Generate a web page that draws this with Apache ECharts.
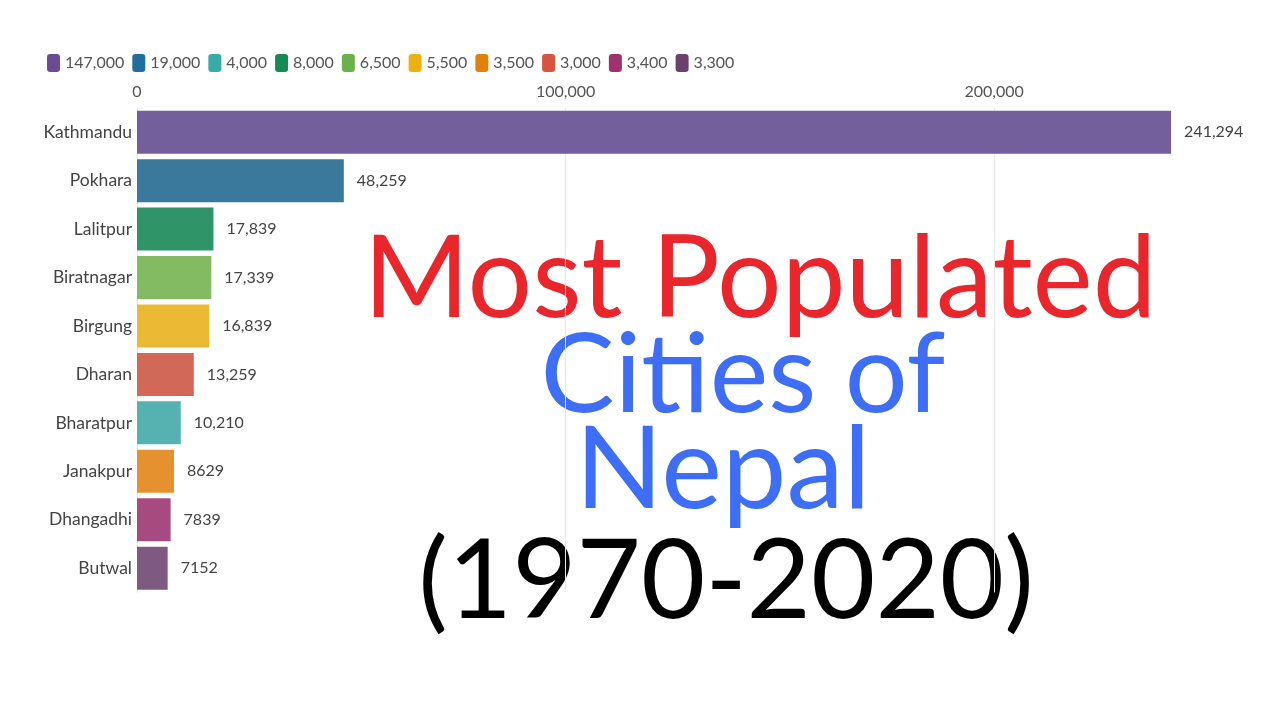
<!DOCTYPE html>
<html><head><meta charset="utf-8">
<script src="https://cdn.jsdelivr.net/npm/echarts@6/dist/echarts.min.js"></script>
<style>html,body{margin:0;padding:0;background:#fff}#c{width:1280px;height:720px}</style>
</head><body><div id="c"></div>
<script>
// Categories (top to bottom)
const cities = ['Kathmandu','Pokhara','Lalitpur','Biratnagar','Birgung','Dharan','Bharatpur','Janakpur','Dhangadhi','Butwal'];
const population = [241294, 48259, 17839, 17339, 16839, 13259, 10210, 8629, 7839, 7152];
// Legend entries (series names) in legend order, with the city each colours
const legendNames = ['147,000','19,000','4,000','8,000','6,500','5,500','3,500','3,000','3,400','3,300'];
const legendCity = ['Kathmandu','Pokhara','Bharatpur','Lalitpur','Biratnagar','Birgung','Janakpur','Dharan','Dhangadhi','Butwal'];
const legendColors = ['#6a4c93','#1f6e9c','#3aaaa6','#168a55','#6cb04a','#eeb011','#e2800c','#d5553f','#a0306e','#6b406e'];
const barColors = ['#735f9b','#3a799b','#55b2b0','#2f9467','#83bb62','#ebb933','#e6912f','#d26857','#a74a7f','#7f5a80'];
const axisTicks = [0, 100000, 200000];
const titleLines = ['Most Populated','Cities of','Nepal','(1970-2020)'];

function fmt(v){ return v >= 10000 ? v.toLocaleString('en-US') : String(v); }

const series = legendNames.map((name, i) => ({
  name: name,
  type: 'bar',
  stack: 'all',
  barWidth: 43,
  itemStyle: { color: barColors[i] },
  label: { show: true, position: 'right', distance: 13, fontFamily: 'Lato', fontSize: 16, color: '#444',
           formatter: p => fmt(p.value) },
  data: cities.map(c => c === legendCity[i] ? population[cities.indexOf(c)] : '-')
}));

const chart = echarts.init(document.getElementById('c'));
chart.setOption({
  backgroundColor: '#fff',
  animation: false,
  legend: {
    left: 47, top: 54, padding: 0, itemWidth: 13, itemHeight: 18, itemGap: 8, icon: 'roundRect',
    textStyle: { fontFamily: 'Lato', fontSize: 16, color: '#555' },
    data: legendNames.map((n, i) => ({ name: n, itemStyle: { color: legendColors[i] } }))
  },
  grid: { left: 137, right: 71.6, top: 108, bottom: 127.6 },
  xAxis: {
    type: 'value', position: 'top', min: 0, max: 250000, interval: 100000,
    axisLine: { show: false }, axisTick: { show: false },
    axisLabel: { margin: 8, fontFamily: 'Lato', fontSize: 16, color: '#555', showMaxLabel: false,
                 formatter: v => axisTicks.indexOf(v) >= 0 ? v.toLocaleString('en-US') : '' },
    splitLine: { showMaxLine: false, lineStyle: { color: '#e6e6e6' } }
  },
  yAxis: {
    type: 'category', inverse: true, data: cities,
    axisLine: { show: true, lineStyle: { color: '#e4e4e4' } }, axisTick: { show: false },
    axisLabel: { margin: 5, fontFamily: 'Lato', fontSize: 17.5, color: '#444' }
  },
  graphic: [
    { type: 'text', style: { text: titleLines[0], x: 760, y: 280, textAlign: 'center', textVerticalAlign: 'middle', font: '114px Lato', fill: '#e8262b' } },
    { type: 'text', style: { text: titleLines[1], x: 743, y: 376, textAlign: 'center', textVerticalAlign: 'middle', font: '111px Lato', fill: '#3d6ef5' } },
    { type: 'text', style: { text: titleLines[2], x: 723, y: 471, textAlign: 'center', textVerticalAlign: 'middle', font: '115px Lato', fill: '#3d6ef5' } },
    { type: 'text', style: { text: titleLines[3], x: 726, y: 582, textAlign: 'center', textVerticalAlign: 'middle', font: '111px Lato', fill: '#000' } }
  ],
  series: series
});
</script></body></html>
